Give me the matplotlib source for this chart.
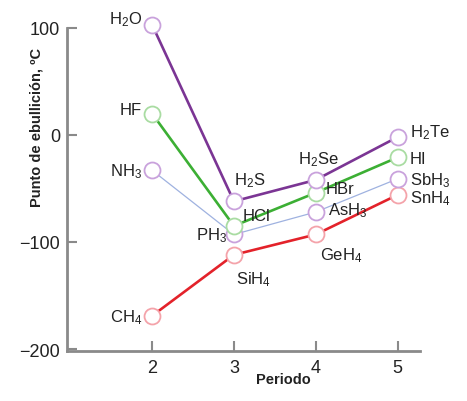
import matplotlib
matplotlib.use("Agg")
import matplotlib.pyplot as plt

plt.rcParams['font.family'] = ['Liberation Sans', 'DejaVu Sans']
plt.rcParams['mathtext.fontset'] = 'custom'
plt.rcParams['mathtext.rm'] = 'Liberation Sans'
plt.rcParams['mathtext.it'] = 'Liberation Sans:italic'

# Boiling points (degC), period 2..5
periods = [2, 3, 4, 5]
group16 = [103, -62, -42, -2]      # H2O, H2S, H2Se, H2Te
group17 = [20, -85, -54, -21]      # HF, HCl, HBr, HI
group15 = [-33, -93, -72, -41]     # NH3, PH3, AsH3, SbH3
group14 = [-169, -112, -93, -56]   # CH4, SiH4, GeH4, SnH4

names16 = ["H$_2$O", "H$_2$S", "H$_2$Se", "H$_2$Te"]
names17 = ["HF", "HCl", "HBr", "HI"]
names15 = ["NH$_3$", "PH$_3$", "AsH$_3$", "SbH$_3$"]
names14 = ["CH$_4$", "SiH$_4$", "GeH$_4$", "SnH$_4$"]

yticks = [100, 0, -100, -200]
ytick_labels = ["100", "0", "\u2212100", "\u2212200"]

fig = plt.figure(figsize=(4.67, 4.02), dpi=100)
ax = fig.add_axes([0.1435, 0.124, 0.755, 0.804])

series = [
    # values, names, line colour, marker edge, line width, label offsets (px, ha)
    (group14, names14, "#e3222a", "#f4a3aa", 1.9,
     [(-10, -1, "right"), (2, -24, "left"), (4, -20, "left"), (12, -3, "left")]),
    (group15, names15, "#9fb2e0", "#c9a2dc", 0.9,
     [(-10, 0, "right"), (-7, 0, "right"), (12, 2, "left"), (12, -1, "left")]),
    (group17, names17, "#3caf34", "#a9dca2", 1.9,
     [(-10, 4, "right"), (9, 10, "left"), (10, 4, "left"), (12, -1, "left")]),
    (group16, names16, "#7b3594", "#c9a2dc", 1.9,
     [(-10, 6, "right"), (16, 22, "center"), (3, 21, "center"), (12, 5, "left")]),
]

for vals, names, lc, mc, lw, offs in series:
    ax.plot(periods, vals, color=lc, lw=lw, marker="o", ms=11.5,
            mfc="white", mec=mc, mew=1.3, clip_on=False)
    for x, y, name, (dx, dy, ha) in zip(periods, vals, names, offs):
        ax.annotate(name, (x, y), xytext=(dx, dy), textcoords="offset pixels",
                    ha=ha, va="center", fontsize=12, color="#222222",
                    annotation_clip=False)

ax.set_xlim(0.96, 5.27)
ax.set_ylim(-202, 100)
ax.set_xticks(periods)
ax.set_yticks(yticks)
ax.set_yticklabels(ytick_labels)
ax.tick_params(direction="in", length=7, width=1.5, color="#8a8a8a",
               labelsize=13, labelcolor="#222222")
ax.tick_params(axis="y", pad=5)
ax.tick_params(axis="x", pad=6)
for s in ["top", "right"]:
    ax.spines[s].set_visible(False)
for s in ["left", "bottom"]:
    ax.spines[s].set_color("#8a8a8a")
    ax.spines[s].set_linewidth(2)

fig.text(283 / 467, 1 - 380 / 402, "Periodo", fontsize=10.5, fontweight="bold",
         ha="center", va="center", color="#222222")
fig.text(37 / 467, 1 - 127 / 402, "Punto de ebullición, ºC", fontsize=10.5,
         fontweight="bold", rotation=90, ha="center", va="center",
         color="#222222")

fig.savefig("out.png", dpi=100)
